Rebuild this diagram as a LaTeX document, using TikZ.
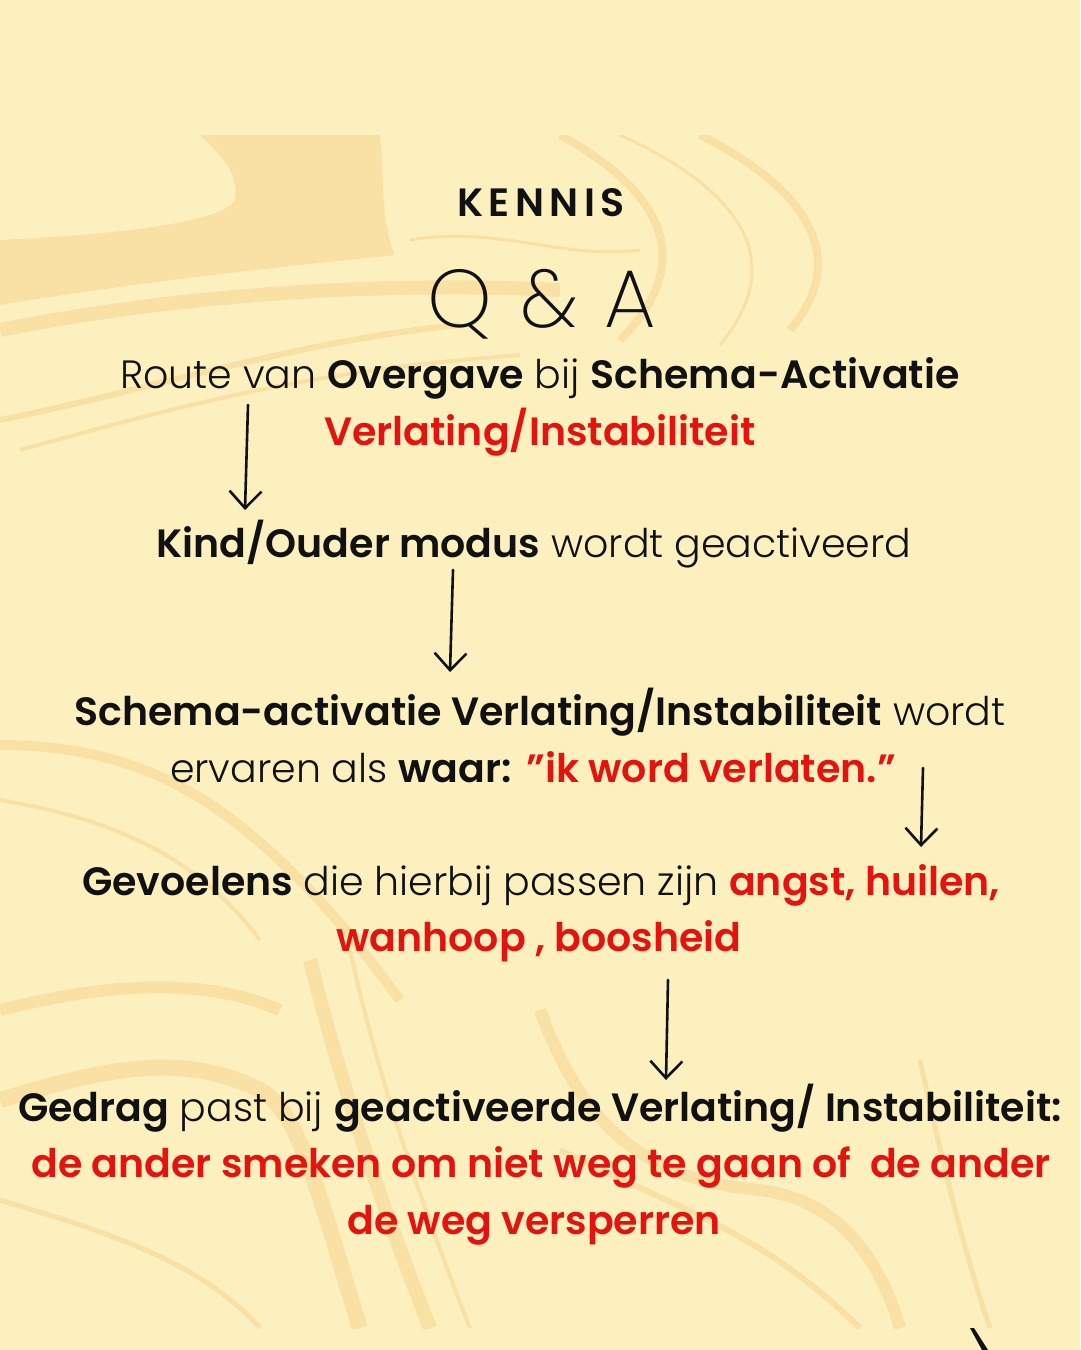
\documentclass[tikz,border=0pt]{standalone}
\usepackage{fontspec}
\setmainfont{Poppins}[UprightFont=* Light, BoldFont=* SemiBold]
\newfontfamily\qafont{Poppins ExtraLight}
\usepackage{tikz}
\usetikzlibrary{arrows.meta}
\usetikzlibrary{positioning}

\definecolor{paper}{HTML}{FDF0BF}
\definecolor{marble}{HTML}{F0BE66}
\definecolor{ink}{HTML}{111111}
\definecolor{qred}{HTML}{E3140F}
\newcommand{\hl}[1]{{\bfseries #1}}
\newcommand{\rd}[1]{{\bfseries\color{qred}#1}}

\begin{document}
\begin{tikzpicture}[x=1pt,y=-1pt,->,>={Straight Barb[length=17pt,width=32pt,line width=2.6pt]},thick]
\tikzstyle{t}=[anchor=base,inner sep=0pt,text=ink,font=\fontsize{39.5}{57}\selectfont]
\tikzstyle{flow}=[draw=ink,line width=2.6pt,line cap=round]
\tikzstyle{swirl}=[-,draw=marble,line cap=butt,opacity=0.3]
% background
\fill[paper] (0,0) rectangle (1080,1350);
\useasboundingbox (0,0) rectangle (1080,1350);
% marble streaks
\begin{scope}
\clip (0,135) rectangle (1000,1328);
\fill[marble,opacity=0.3] (200,135) -- (380,135) .. controls (385,180) and (380,220) .. (395,255) .. controls (300,265) and (150,280) .. (0,305) -- (0,240) .. controls (100,235) and (220,225) .. (235,200) .. controls (240,170) and (215,150) .. (200,135) -- cycle;
\draw[swirl,line width=14pt] (0,330) .. controls (150,300) and (350,280) .. (560,290);
\draw[swirl,line width=6pt] (0,420) .. controls (150,390) and (300,340) .. (460,325);
\draw[swirl,line width=4pt] (20,450) .. controls (200,400) and (320,370) .. (520,355);
\draw[swirl,line width=3pt] (410,240) .. controls (500,225) and (560,260) .. (640,250);
\draw[swirl,line width=8pt] (560,135) .. controls (660,190) and (700,260) .. (620,340);
\draw[swirl,line width=3pt] (620,135) .. controls (740,190) and (790,260) .. (720,345);
\draw[swirl,line width=8pt] (700,135) .. controls (810,190) and (850,260) .. (790,330);
\draw[swirl,line width=10pt] (0,745) .. controls (140,745) and (220,800) .. (300,880) .. controls (340,920) and (370,960) .. (400,1000);
\draw[swirl,line width=4pt] (0,800) .. controls (120,820) and (200,860) .. (260,940);
\draw[swirl,line width=12pt] (0,1010) .. controls (100,985) and (200,975) .. (280,1010);
\draw[swirl,line width=16pt] (0,1100) .. controls (100,1070) and (180,1050) .. (260,1090) .. controls (300,1110) and (320,1200) .. (360,1328);
\draw[swirl,line width=14pt] (310,960) .. controls (330,1040) and (360,1150) .. (430,1328);
\draw[swirl,line width=4pt] (350,950) .. controls (370,1040) and (400,1150) .. (470,1328);
\draw[swirl,line width=5pt] (0,1200) .. controls (100,1230) and (200,1260) .. (260,1328);
\draw[swirl,line width=12pt] (540,1010) .. controls (580,1120) and (640,1180) .. (760,1190) .. controls (840,1200) and (880,1260) .. (900,1328);
\draw[swirl,line width=6pt] (560,1150) .. controls (680,1210) and (760,1230) .. (860,1328);
\draw[swirl,line width=5pt] (920,1060) .. controls (940,1150) and (960,1240) .. (990,1328);
\end{scope}
% texts
\node[t]	(kennis)	at (541,216)	{\bfseries\addfontfeatures{LetterSpace=14}KENNIS};
\node[t]	(qa)		at (542,327)	{\fontsize{82}{82}\selectfont\qafont Q\,\,\&\,\,A};
\node[t]	(route)		at (540,388)	{Route van \hl{Overgave} bij \hl{Schema-Activatie}};
\node[t]	(verl)		at (540,445)	{\rd{Verlating/Instabiliteit}};
\node[t]	(kind)		at (534,557)	{\hl{Kind/Ouder modus} wordt geactiveerd};
\node[t]	(schema)	at (540,725)	{\hl{Schema-activatie Verlating/Instabiliteit} wordt};
\node[t]	(waar)		at (533,782)	{ervaren als \hl{waar:} \rd{"ik word verlaten."}};
\node[t]	(gevoel)	at (541,895)	{\hl{Gevoelens} die hierbij passen zijn \rd{angst, huilen,}};
\node[t]	(wanhoop)	at (539,951)	{\rd{wanhoop , boosheid}};
\node[t]	(gedrag)	at (540,1121)	{\hl{Gedrag} past bij \hl{geactiveerde Verlating/ Instabiliteit:}};
\node[t]	(smeken)	at (541,1177)	{\rd{de ander smeken om niet weg te gaan of~ de ander}};
\node[t]	(versp)		at (534,1234)	{\rd{de weg versperren}};
% arrow ends
\coordinate	(s1)	at (248,405);
\coordinate	(e1)	at (245,510);
\coordinate	(s2)	at (453,570);
\coordinate	(e2)	at (450,672);
\coordinate	(s3)	at (923,768);
\coordinate	(e3)	at (921,847);
\coordinate	(s4)	at (668,980);
\coordinate	(e4)	at (666,1080);
\path	(s1)	edge[flow]	(e1)
	(s2)	edge[flow]	(e2)
	(s3)	edge[flow]	(e3)
	(s4)	edge[flow]	(e4);
% corner stroke
\fill[-,ink] (970,1328) -- (974,1328) -- (988,1350) -- (982,1350) -- cycle;
\end{tikzpicture}
\end{document}
